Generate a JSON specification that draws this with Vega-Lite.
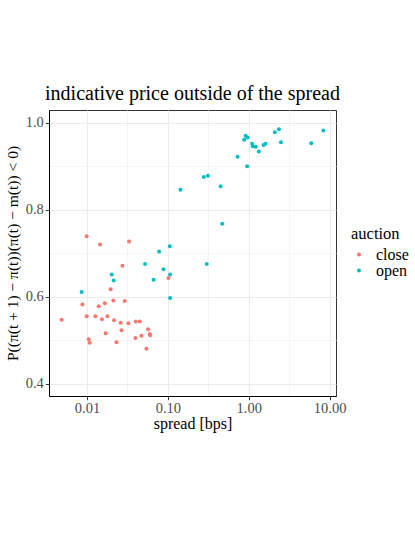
{
  "$schema": "https://vega.github.io/schema/vega-lite/v6.json",
  "autosize": "none",
  "width": 287,
  "height": 286,
  "padding": {"left": 49, "top": 110, "right": 79, "bottom": 138},
  "background": "white",
  "title": {"text": "indicative price outside of the spread", "font": "Liberation Serif", "fontSize": 20, "fontWeight": "normal", "color": "black", "anchor": "middle", "offset": 6},
  "config": {
    "view": {"stroke": "#333333", "strokeWidth": 1},
    "axis": {"labelFont": "Liberation Serif", "titleFont": "Liberation Serif", "labelFontSize": 14.5, "titleFontSize": 16, "titleFontWeight": "normal", "labelColor": "#4D4D4D", "titleColor": "black", "domainColor": "black", "tickSize": 3.7, "labelPadding": 2},
    "legend": {"labelFont": "Liberation Serif", "titleFont": "Liberation Serif"}
  },
  "data": {"values": [
    {"spread": 0.0099, "p": 0.739, "auction": "close"},
    {"spread": 0.0145, "p": 0.720, "auction": "close"},
    {"spread": 0.0331, "p": 0.727, "auction": "close"},
    {"spread": 0.1017, "p": 0.643, "auction": "close"},
    {"spread": 0.0274, "p": 0.671, "auction": "close"},
    {"spread": 0.0196, "p": 0.617, "auction": "close"},
    {"spread": 0.00877, "p": 0.582, "auction": "close"},
    {"spread": 0.0166, "p": 0.585, "auction": "close"},
    {"spread": 0.0212, "p": 0.591, "auction": "close"},
    {"spread": 0.0293, "p": 0.590, "auction": "close"},
    {"spread": 0.01396, "p": 0.578, "auction": "close"},
    {"spread": 0.00486, "p": 0.547, "auction": "close"},
    {"spread": 0.0099, "p": 0.555, "auction": "close"},
    {"spread": 0.0127, "p": 0.555, "auction": "close"},
    {"spread": 0.0179, "p": 0.555, "auction": "close"},
    {"spread": 0.0153, "p": 0.548, "auction": "close"},
    {"spread": 0.0216, "p": 0.546, "auction": "close"},
    {"spread": 0.0261, "p": 0.540, "auction": "close"},
    {"spread": 0.0325, "p": 0.539, "auction": "close"},
    {"spread": 0.0401, "p": 0.543, "auction": "close"},
    {"spread": 0.0449, "p": 0.543, "auction": "close"},
    {"spread": 0.0569, "p": 0.525, "auction": "close"},
    {"spread": 0.0267, "p": 0.523, "auction": "close"},
    {"spread": 0.0170, "p": 0.516, "auction": "close"},
    {"spread": 0.0397, "p": 0.505, "auction": "close"},
    {"spread": 0.0471, "p": 0.510, "auction": "close"},
    {"spread": 0.0597, "p": 0.514, "auction": "close"},
    {"spread": 0.0604, "p": 0.511, "auction": "close"},
    {"spread": 0.0105, "p": 0.502, "auction": "close"},
    {"spread": 0.0108, "p": 0.494, "auction": "close"},
    {"spread": 0.0231, "p": 0.495, "auction": "close"},
    {"spread": 0.0543, "p": 0.480, "auction": "close"},
    {"spread": 0.143, "p": 0.846, "auction": "open"},
    {"spread": 0.1055, "p": 0.716, "auction": "open"},
    {"spread": 0.0778, "p": 0.704, "auction": "open"},
    {"spread": 0.0522, "p": 0.675, "auction": "open"},
    {"spread": 0.0883, "p": 0.663, "auction": "open"},
    {"spread": 0.1064, "p": 0.651, "auction": "open"},
    {"spread": 0.0665, "p": 0.639, "auction": "open"},
    {"spread": 0.0202, "p": 0.651, "auction": "open"},
    {"spread": 0.0214, "p": 0.637, "auction": "open"},
    {"spread": 0.00859, "p": 0.611, "auction": "open"},
    {"spread": 0.1064, "p": 0.597, "auction": "open"},
    {"spread": 0.278, "p": 0.875, "auction": "open"},
    {"spread": 0.312, "p": 0.878, "auction": "open"},
    {"spread": 0.448, "p": 0.854, "auction": "open"},
    {"spread": 0.469, "p": 0.768, "auction": "open"},
    {"spread": 0.726, "p": 0.922, "auction": "open"},
    {"spread": 0.955, "p": 0.900, "auction": "open"},
    {"spread": 0.877, "p": 0.961, "auction": "open"},
    {"spread": 0.912, "p": 0.970, "auction": "open"},
    {"spread": 0.966, "p": 0.966, "auction": "open"},
    {"spread": 1.10, "p": 0.952, "auction": "open"},
    {"spread": 1.12, "p": 0.946, "auction": "open"},
    {"spread": 1.22, "p": 0.945, "auction": "open"},
    {"spread": 1.33, "p": 0.934, "auction": "open"},
    {"spread": 1.52, "p": 0.949, "auction": "open"},
    {"spread": 1.61, "p": 0.952, "auction": "open"},
    {"spread": 2.10, "p": 0.978, "auction": "open"},
    {"spread": 2.36, "p": 0.985, "auction": "open"},
    {"spread": 2.50, "p": 0.955, "auction": "open"},
    {"spread": 5.92, "p": 0.953, "auction": "open"},
    {"spread": 8.34, "p": 0.982, "auction": "open"},
    {"spread": 0.303, "p": 0.675, "auction": "open"}
  ]},
  "mark": {"type": "circle", "size": 16, "opacity": 1},
  "encoding": {
    "x": {"field": "spread", "type": "quantitative",
      "scale": {"type": "log", "domain": [0.00339, 11.97], "nice": false},
      "axis": {"title": "spread [bps]", "values": [0.01, 0.0316228, 0.1, 0.316228, 1, 3.16228, 10],
        "format": ".2f", "labelExpr": "abs(log(datum.value)/log(10) - round(log(datum.value)/log(10))) < 0.01 ? datum.label : ''",
        "tickColor": {"condition": {"test": "abs(log(datum.value)/log(10) - round(log(datum.value)/log(10))) < 0.01", "value": "#333333"}, "value": "transparent"},
        "gridColor": {"condition": {"test": "abs(log(datum.value)/log(10) - round(log(datum.value)/log(10))) < 0.01", "value": "#EBEBEB"}, "value": "#F5F5F5"},
        "titlePadding": 0}},
    "y": {"field": "p", "type": "quantitative",
      "scale": {"domain": [0.3715, 1.0294], "nice": false, "zero": false},
      "axis": {"title": "P((π(t + 1) − π(t))(π(t) − m(t)) < 0)", "values": [0.4, 0.5, 0.6, 0.7, 0.8, 0.9, 1.0],
        "format": ".1f", "labelExpr": "round(datum.value*10) % 2 == 0 ? datum.label : ''",
        "tickColor": {"condition": {"test": "round(datum.value*10) % 2 == 0", "value": "#333333"}, "value": "transparent"},
        "gridColor": {"condition": {"test": "round(datum.value*10) % 2 == 0", "value": "#EBEBEB"}, "value": "#F5F5F5"},
        "titleFontSize": 15.5, "titlePadding": 5}},
    "color": {"field": "auction", "type": "nominal",
      "scale": {"domain": ["close", "open"], "range": ["#F8766D", "#00BFC4"]},
      "legend": {"title": "auction", "orient": "none", "legendX": 302, "legendY": 116, "titleFontSize": 16.5, "titleFontWeight": "normal", "titleColor": "black", "labelFontSize": 16, "labelColor": "black", "labelOffset": 9, "symbolType": "circle", "symbolSize": 16, "rowPadding": 0, "titlePadding": 4}}
  }
}
